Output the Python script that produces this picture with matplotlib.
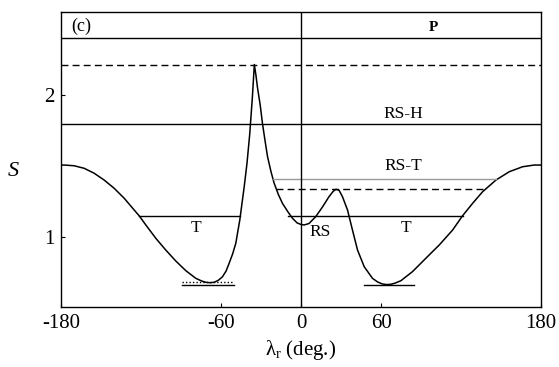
import numpy as np
import matplotlib.pyplot as plt

plt.rcParams['font.family'] = ['Liberation Serif', 'DejaVu Serif']
plt.rcParams['mathtext.fontset'] = 'custom'
plt.rcParams['mathtext.rm'] = 'Liberation Serif'
plt.rcParams['mathtext.it'] = 'Liberation Serif:italic'

# curve S(lambda_r)
lam = [-180, -177.7, -170.2, -162.6, -155.1, -147.6, -140.1, -132.6, -125.1,
       -121.4, -116.4, -108.9, -101.4, -93.9, -86.4, -78.9, -74.5, -71.4, -68.2,
       -65.1, -62, -58.9, -56.2, -53.9, -51.3, -48.9, -45.9, -42.6, -40.5, -38.5,
       -36.5, -35, -33.8, -32.6, -30.6, -28.9, -27, -25.1, -22.5, -20.1, -17,
       -13.9, -10, -6.4, -3, 0, 2.4, 6, 11, 16, 21, 24, 26.1, 28.5, 31.1, 34.9,
       38.6, 42.4, 47.4, 53.6, 57.5, 61.1, 64.3, 67.4, 70.5, 74.9, 83.6, 93.6,
       103.7, 113.7, 121.2, 128.7, 136.2, 146.2, 156.2, 166.2, 174.9, 180]
S = [1.507, 1.507, 1.502, 1.484, 1.449, 1.401, 1.343, 1.273, 1.19,
     1.15, 1.085, 0.991, 0.908, 0.831, 0.763, 0.709, 0.69, 0.681, 0.678,
     0.681, 0.695, 0.72, 0.76, 0.815, 0.88, 0.956, 1.12, 1.354, 1.52, 1.72,
     1.98, 2.215, 2.14, 2.05, 1.93, 1.80, 1.68, 1.566, 1.46, 1.378, 1.30,
     1.237, 1.18, 1.132, 1.10, 1.088, 1.085, 1.095, 1.143, 1.21, 1.284, 1.32,
     1.336, 1.33, 1.284, 1.19, 1.049, 0.908, 0.791, 0.709, 0.683, 0.669, 0.665,
     0.667, 0.675, 0.692, 0.756, 0.85, 0.944, 1.049, 1.15, 1.237, 1.319, 1.401,
     1.46, 1.495, 1.507, 1.507]

# horizontal levels: (S, x start, x end, style, colour)
levels = [
    (2.40, -180, 180, '-', 'black'),      # P
    (2.215, -180, 180, '--', 'black'),
    (1.796, -180, 180, '-', 'black'),     # RS-H
    (1.412, -21, 146.5, '-', '0.6'),      # RS-T
    (1.336, -19, 137.5, '--', 'black'),
    (1.15, -121.4, -46, '-', 'black'),    # T left
    (1.15, -10, 121.2, '-', 'black'),     # T right
    (0.681, -89, -50, ':', 'black'),
    (0.662, -89, -50, '-', 'black'),
    (0.662, 47, 85, '-', 'black'),
]

labels = [('(c)', -164.7, 2.486, 13, 'normal'),
          ('P', 99.4, 2.475, 11, 'bold'),
          ('RS-H', 76.9, 1.87, 12.5, 'normal'),
          ('RS-T', 76.9, 1.50, 12.5, 'normal'),
          ('T', -79.1, 1.063, 12.5, 'normal'),
          ('T', 78.4, 1.063, 12.5, 'normal'),
          ('RS', 14.6, 1.032, 12.5, 'normal')]

fig = plt.figure(figsize=(5.59, 3.67), dpi=100)
ax = fig.add_axes([61/559, 1-307/367, 480/559, 295/367])

ax.plot(lam, S, color='black', lw=1.1)
for y, x0, x1, ls, c in levels:
    line, = ax.plot([x0, x1], [y, y], color=c, ls=ls, lw=1.0)
    if ls == '--':
        line.set_dashes((5, 3))
    elif ls == ':':
        line.set_dashes((1, 1.5))
ax.axvline(0, color='black', lw=1.0)

for t, x, y, fs, fw in labels:
    ax.text(x, y, t, fontsize=fs, fontweight=fw, ha='center', va='center')

ax.set_xlim(-180, 180)
ax.set_ylim(0.507, 2.585)
ax.set_xticks([-180, -60, 0, 60, 180])
ax.set_xticklabels(['-180', '-60', '0', '60', '180'])
ax.set_yticks([1, 2])
ax.tick_params(direction='in', length=3, labelsize=15, pad=5)
for sp in ax.spines.values():
    sp.set_linewidth(1.0)

ax.set_xlabel(r'λ$_{\mathrm{r}}$ (deg.)', fontsize=15, labelpad=4)
fig.text(13/559, 1-172/367, 'S', fontsize=16, style='italic',
         ha='center', va='center')

fig.savefig('out.png', dpi=100)
